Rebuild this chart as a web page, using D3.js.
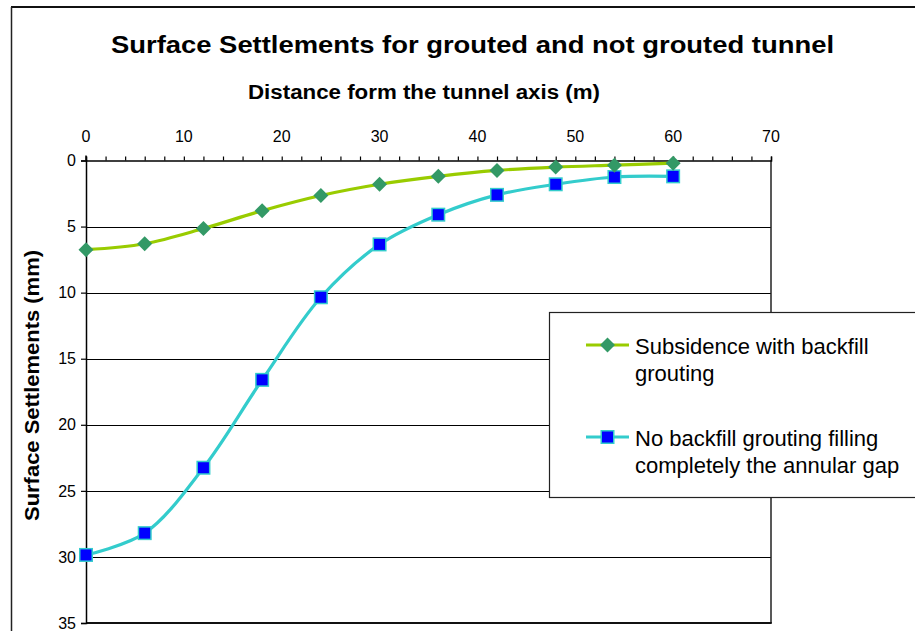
<!DOCTYPE html>
<html><head><meta charset="utf-8">
<script src="https://cdn.jsdelivr.net/npm/d3@7"></script>
<style>
html,body{margin:0;padding:0;background:#fff;}
svg{display:block;font-family:"Liberation Sans",Arial,sans-serif;}
</style></head>
<body><svg id="c" width="915" height="631"></svg>
<script>
const distances = [0, 6, 12, 18, 24, 30, 36, 42, 48, 54, 60];
const grouted = [6.75, 6.3, 5.15, 3.8, 2.65, 1.8, 1.2, 0.75, 0.5, 0.35, 0.2];
const notGrouted = [29.85, 28.2, 23.25, 16.6, 10.35, 6.35, 4.1, 2.6, 1.8, 1.25, 1.2];
const xTicks = [0, 10, 20, 30, 40, 50, 60, 70];
const yTicks = [0, 5, 10, 15, 20, 25, 30, 35];
const seriesNames = ["Subsidence with backfill grouting", "No backfill grouting filling completely the annular gap"];
const legendLines = [["Subsidence with backfill", "grouting"], ["No backfill grouting filling", "completely the annular gap"]];

const svg = d3.select("#c");
const L = 86, R = 771, T = 160.5, B = 623;
const x = d3.scaleLinear().domain([0, 70]).range([L, R]);
const y = d3.scaleLinear().domain([0, 35]).range([T, B]);

// outer border
svg.append("line").attr("x1", 11).attr("x2", 920).attr("y1", 7).attr("y2", 7).attr("stroke", "#111").attr("stroke-width", 2);
svg.append("line").attr("x1", 11.5).attr("x2", 11.5).attr("y1", 7).attr("y2", 640).attr("stroke", "#222").attr("stroke-width", 1.5);

// title
svg.append("text").attr("x", 472.5).attr("y", 53).attr("text-anchor", "middle")
  .attr("font-size", 24).attr("font-weight", "bold").attr("textLength", 723).attr("lengthAdjust", "spacingAndGlyphs")
  .text("Surface Settlements for grouted and not grouted tunnel");
svg.append("text").attr("x", 424).attr("y", 99).attr("text-anchor", "middle")
  .attr("font-size", 20).attr("font-weight", "bold").attr("textLength", 352).attr("lengthAdjust", "spacingAndGlyphs")
  .text("Distance form the tunnel axis (m)");
svg.append("text").attr("transform", "translate(39,385.5) rotate(-90)").attr("text-anchor", "middle")
  .attr("font-size", 20).attr("font-weight", "bold").attr("textLength", 271).attr("lengthAdjust", "spacingAndGlyphs")
  .text("Surface Settlements (mm)");

// gridlines
svg.append("g").selectAll("line").data(yTicks.filter(d => d > 0 && d < 35)).join("line")
  .attr("x1", L).attr("x2", R).attr("y1", d => Math.round(y(d)) + 0.5).attr("y2", d => Math.round(y(d)) + 0.5)
  .attr("stroke", "#000").attr("stroke-width", 1.2);

// right border
svg.append("line").attr("x1", R).attr("x2", R).attr("y1", T).attr("y2", B).attr("stroke", "#222").attr("stroke-width", 1.5);
// bottom border
svg.append("line").attr("x1", L).attr("x2", R + 0.75).attr("y1", B).attr("y2", B).attr("stroke", "#111").attr("stroke-width", 2.2);

// x axis (top)
const xAxis = d3.axisTop(x).tickValues(d3.range(0, 71, 2)).tickSize(4).tickFormat("");
const gx = svg.append("g").attr("transform", `translate(0,${T})`).call(xAxis);
gx.select(".domain").attr("stroke", "#000").attr("stroke-width", 1.5);
gx.selectAll(".tick line").attr("stroke", "#000").attr("stroke-width", 1.2);
svg.append("g").selectAll("text").data(xTicks).join("text")
  .attr("x", d => x(d)).attr("y", 141.5).attr("text-anchor", "middle").attr("font-size", 16).text(d => d);

// y axis (left)
const yAxis = d3.axisLeft(y).tickValues(yTicks).tickSize(5).tickFormat("");
const gy = svg.append("g").attr("transform", `translate(${L},0)`).call(yAxis);
gy.select(".domain").attr("stroke", "#000").attr("stroke-width", 1.5);
gy.selectAll(".tick line").attr("stroke", "#000").attr("stroke-width", 1.2);
svg.append("line").attr("x1", L).attr("x2", L).attr("y1", T - 5).attr("y2", T).attr("stroke", "#000").attr("stroke-width", 1.5);
svg.append("g").selectAll("text").data(yTicks).join("text")
  .attr("x", 76).attr("y", d => y(d) + 5.7).attr("text-anchor", "end").attr("font-size", 16).text(d => d);

// lines
const line = d3.line().x(d => x(d[0])).y(d => y(d[1])).curve(d3.curveCatmullRom.alpha(0.5));
const gData = distances.map((d, i) => [d, grouted[i]]);
const bData = distances.map((d, i) => [d, notGrouted[i]]);
svg.append("path").attr("d", line(bData)).attr("fill", "none").attr("stroke", "#33CCCC").attr("stroke-width", 3.2);
svg.append("path").attr("d", line(gData)).attr("fill", "none").attr("stroke", "#99CC00").attr("stroke-width", 3.2);

function drawDiamond(g, cx, cy) {
  g.append("path").attr("d", "M0,-7.5L7.5,0L0,7.5L-7.5,0Z").attr("transform", `translate(${cx},${cy})`).attr("fill", "#339966");
}
function drawSquare(g, cx, cy) {
  g.append("rect").attr("x", cx - 6.25).attr("y", cy - 6.25).attr("width", 12.5).attr("height", 12.5)
    .attr("fill", "#0000FF").attr("stroke", "#33CCCC").attr("stroke-width", 1.5);
}
const mg = svg.append("g");
bData.forEach(d => drawSquare(mg, x(d[0]), y(d[1])));
gData.forEach(d => drawDiamond(mg, x(d[0]), y(d[1])));

// legend
const lg = svg.append("g");
lg.append("rect").attr("x", 549.5).attr("y", 312.5).attr("width", 400).attr("height", 185)
  .attr("fill", "#fff").attr("stroke", "#222").attr("stroke-width", 1.2);
const legY = [345, 437];
const legColors = ["#99CC00", "#33CCCC"];
legY.forEach((ly, i) => {
  lg.append("line").attr("x1", 586).attr("x2", 629).attr("y1", ly).attr("y2", ly).attr("stroke", legColors[i]).attr("stroke-width", 3.2);
  if (i === 0) drawDiamond(lg, 607.5, ly); else drawSquare(lg, 607.5, ly);
  legendLines[i].forEach((t, j) => {
    lg.append("text").attr("x", 635).attr("y", ly + 9 + j * 27).attr("font-size", 22).attr("fill", "#000").text(t);
  });
});
</script></body></html>
